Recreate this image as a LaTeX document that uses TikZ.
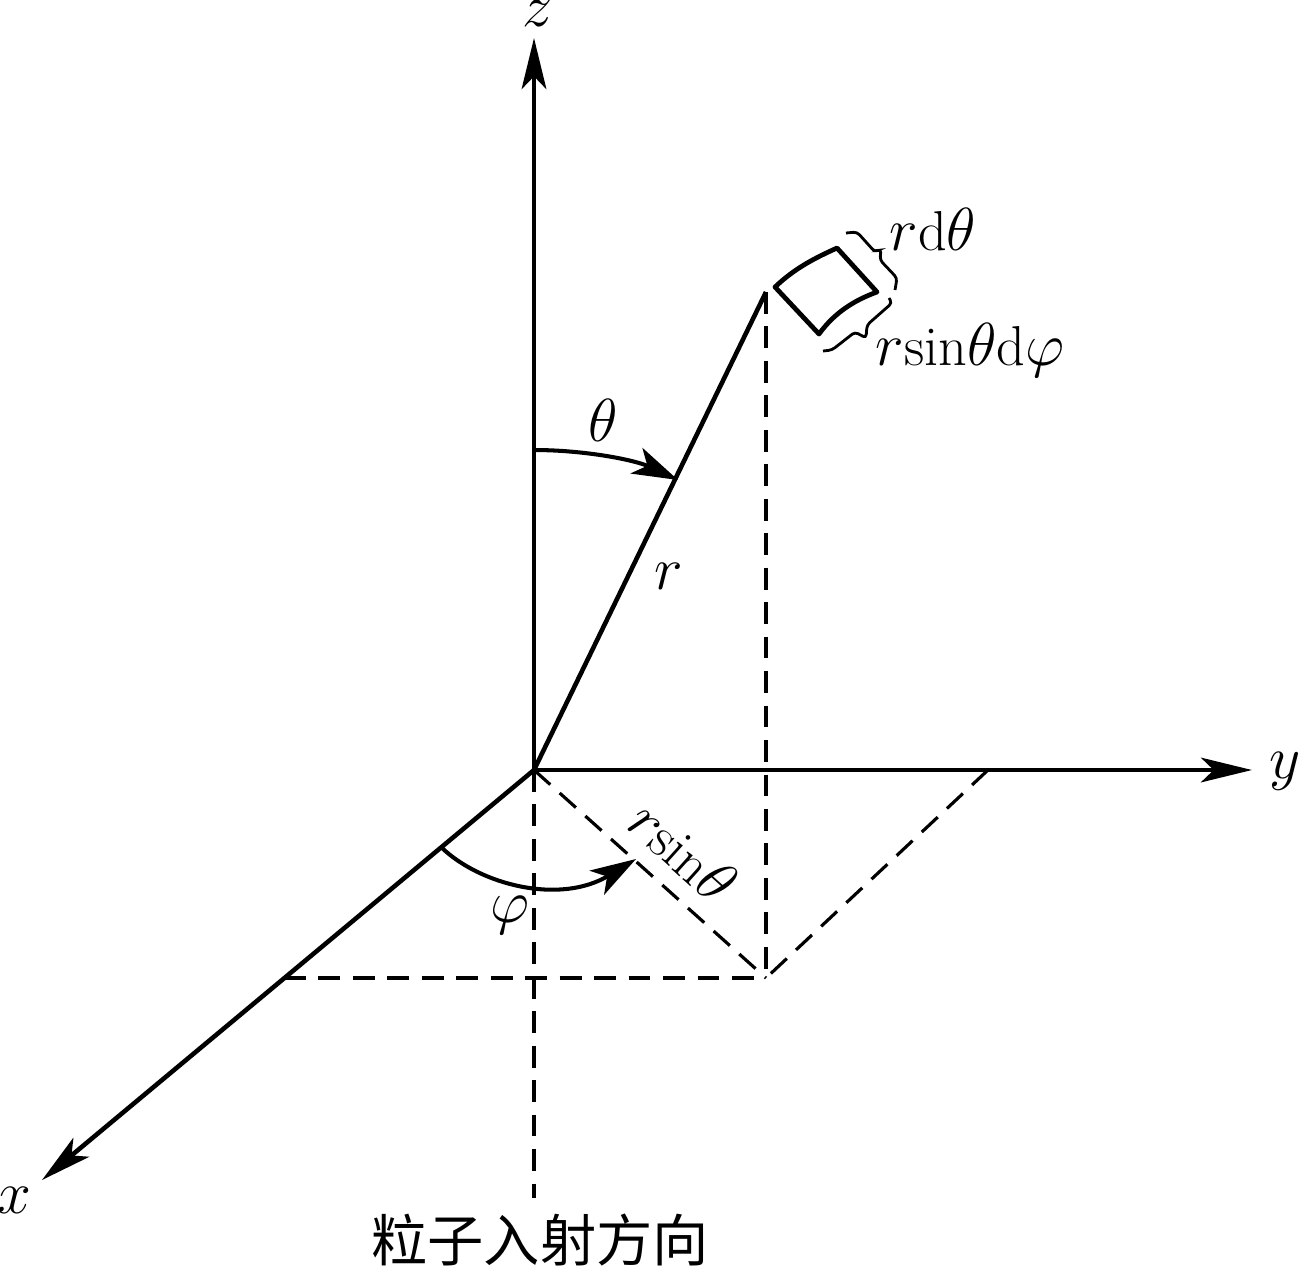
\documentclass[tikz,border=0pt]{standalone}
\usepackage{amsmath}
\usepackage{amssymb}
\usepackage{fontspec}
\newfontfamily\cjkfont{Noto Sans CJK SC}
\usetikzlibrary{arrows.meta}
\tikzset{
  axisline/.style={line width=1.3pt},
  axisarrow/.style={axisline,-{Stealth[length=14.5pt,width=7pt,inset=3.6pt]}},
  anglearrow/.style={line width=1.15pt,-{Stealth[length=13pt,width=8pt,inset=3.4pt]}},
  dashline/.style={line width=0.9pt,dash pattern=on 6.2pt off 3.6pt},
  bracket/.style={line width=0.8pt,rounded corners=1pt},
  patchline/.style={line width=1.35pt},
  lab/.style={inner sep=0pt,font=\fontsize{16}{18}\selectfont},
}
\begin{document}
\begin{tikzpicture}[x=0.01cm,y=-0.01cm]
   \useasboundingbox (0,0) rectangle (1300,1266);
   % vertices
   \coordinate (o) at (534,770);
   \coordinate (zend) at (534,38);
   \coordinate (yend) at (1252,770);
   \coordinate (xend) at (42,1180);
   \coordinate (p) at (766,292);
   \coordinate (f) at (766,978);
   \coordinate (fx) at (284,978);
   \coordinate (fy) at (988,770);
   \coordinate (beam) at (534,1198);
   \coordinate (thetaa) at (534,450);
   \coordinate (thetab) at (678,480);
   \coordinate (phia) at (441,847);
   \coordinate (phib) at (636,859);
   \coordinate (pa) at (775,287);
   \coordinate (pb) at (837,248);
   \coordinate (pc) at (877,292);
   \coordinate (pd) at (819,334);

   % axes
   \draw[axisarrow] (o) -- (zend);
   \draw[axisarrow] (o) -- (yend);
   \draw[axisarrow] (o) -- (xend);
   \draw[axisline] (o) -- (p);

   % dashed lines
   \draw[dashline] (p) -- (f);
   \draw[dashline] (o) -- (f);
   \draw[dashline] (fy) -- (f);
   \draw[dashline] (fx) -- (f);
   \draw[dashline] (o) -- (beam);

   % angles
   \draw[anglearrow] (thetaa) .. controls (585,450) and (635,460) .. (thetab);
   \draw[anglearrow] (phia) .. controls (480,885) and (560,905) .. (phib);

   % surface element
   \draw[patchline,line join=round] (pa) .. controls (795,268) and (815,258) .. (pb)
     -- (pc) .. controls (855,300) and (835,312) .. (pd) -- cycle;

   % brackets
   \draw[bracket] (846,233) -- (857,232) -- (875,252) -- (881,249) -- (880,260) -- (897,278) -- (895,290);
   \draw[bracket] (889,298) -- (892,303) -- (867,325) -- (866,338) -- (855,332) -- (832,350) -- (823,351);

   % labels
   \node[lab] (zlab) at (538,13) {$z$};
   \node[lab] (ylab) at (1285,771) {$y$};
   \node[lab] (xlab) at (14,1200) {$x$};
   \node[lab] (thetalab) at (603,420) {$\theta$};
   \node[lab] (rlab) at (669,576) {$r$};
   \node[lab] (philab) at (510,915) {$\varphi$};
   \node[lab] (rdtheta) at (933,230) {$r\mathrm{d}\theta$};
   \node[lab] (rsindphi) at (970,350) {$r\mathrm{sin}\theta\mathrm{d}\varphi$};
   \node[lab,rotate=-42] (rsinlab) at (683,851) {$r\mathrm{sin}\theta$};
   \node[inner sep=0pt,font=\cjkfont\fontsize{16}{18}\selectfont] (beamlab) at (540,1240) {粒子入射方向};
\end{tikzpicture}
\end{document}
